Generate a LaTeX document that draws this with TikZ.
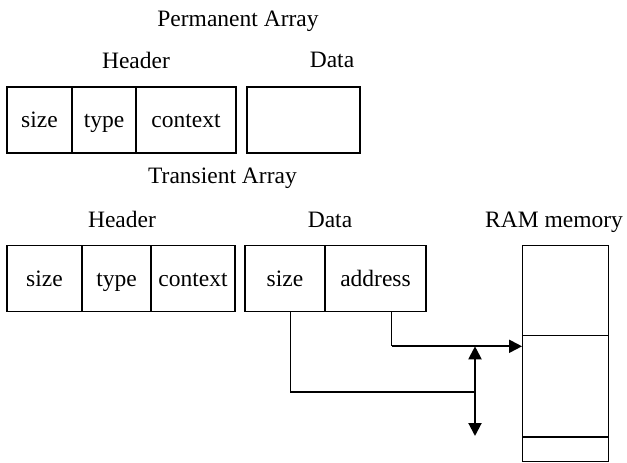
\documentclass[tikz,border=0pt]{standalone}
\usepackage{fontspec}
\setmainfont{Liberation Serif}
\usetikzlibrary{arrows.meta,calc}
\begin{document}
\begin{tikzpicture}[x=1pt,y=-1pt,
  every node/.style={font=\fontsize{23.5}{28}\selectfont, inner sep=0pt},
  cell/.style={draw, line width=1.3pt, rectangle, text height=15pt, text depth=0pt},
  thin/.style={line width=1.1pt},
  bold/.style={line width=2pt, -{Triangle[length=13pt,width=13pt]}},
  dbl/.style={line width=2pt, {Triangle[length=13pt,width=13pt]}-{Triangle[length=13pt,width=13pt]}},
  lbl/.style={anchor=base}]
\useasboundingbox (0,0) rectangle (627,463);
% titles
\node[lbl] (permt) at (238,27) {Permanent Array};
\node[lbl] (ph) at (136,68) {Header};
\node[lbl] (pdl) at (332,67.5) {Data};
\node[lbl] (trt) at (222.5,183) {Transient Array};
\node[lbl] (th) at (122,227) {Header};
\node[lbl] (tdl) at (330,227) {Data};
\node[lbl] (raml) at (554,227) {RAM memory};
% permanent array
\node[cell, minimum width=65pt, minimum height=66pt] (ps) at (39.5,120) {size};
\node[cell, minimum width=64pt, minimum height=66pt] (pt) at (104,120) {type};
\node[cell, minimum width=100pt, minimum height=66pt] (pc) at (186,120) {context};
\node[cell, minimum width=113pt, minimum height=66pt] (pd) at (303.5,120) {};
% transient array
\node[cell, minimum width=75pt, minimum height=66pt] (ts) at (44.5,278.6) {size};
\node[cell, minimum width=69pt, minimum height=66pt] (tt) at (116.5,278.6) {type};
\node[cell, minimum width=84pt, minimum height=66pt] (tc) at (193,278.6) {context};
\node[cell, minimum width=80pt, minimum height=66pt] (tds) at (285,278.6) {size};
\node[cell, minimum width=101pt, minimum height=66pt] (tda) at (375.5,278.6) {address};
% RAM
\node[cell, minimum width=85.6pt, minimum height=90.2pt] (r1) at (565.5,290.6) {};
\node[cell, minimum width=85.6pt, minimum height=101.3pt] (r2) at (565.5,386.35) {};
\node[cell, minimum width=85.6pt, minimum height=24.7pt] (r3) at (565.5,449.35) {};
% connectors
\coordinate (sz) at (290.7,392);
\coordinate (j) at (475,392);
\coordinate (ad) at (391.7,346.3);
\coordinate (up) at (475,346.3);
\coordinate (dn) at (475,436);
\draw[thin] (tds.south -| sz) -- (sz) -- (j);
\draw[thin] (tda.south -| ad) -- (ad);
\draw[bold] (ad) -- (ad -| r2.west);
\draw[dbl] (up) -- (dn);
\end{tikzpicture}
\end{document}
